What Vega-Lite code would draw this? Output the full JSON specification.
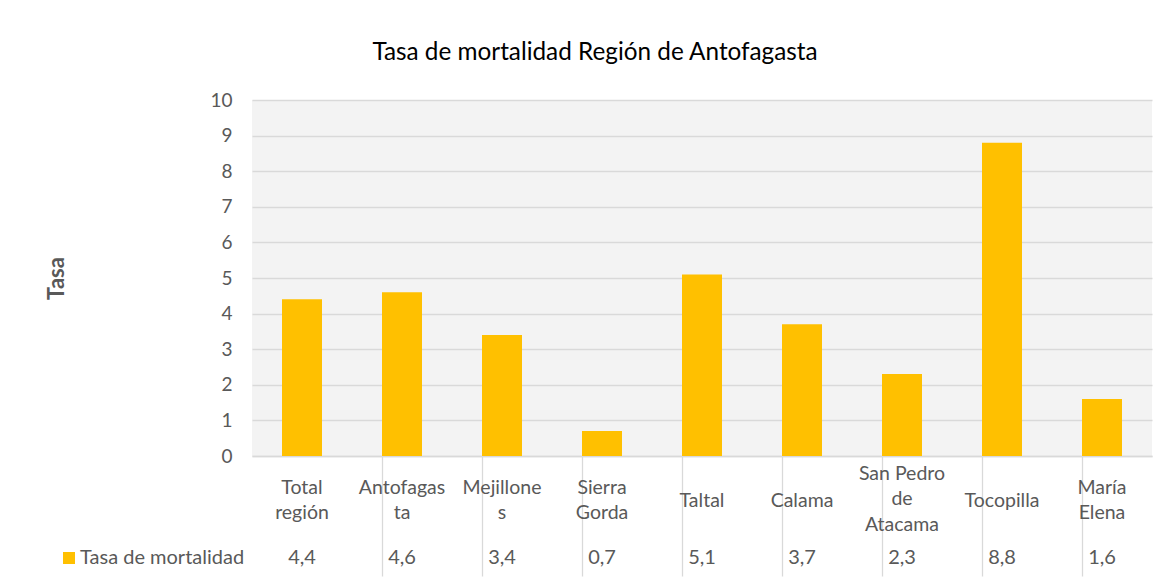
{
  "$schema": "https://vega.github.io/schema/vega-lite/v6.json",
  "width": 900,
  "height": 356,
  "autosize": "none",
  "padding": {"left": 252, "top": 100, "right": 18, "bottom": 128},
  "background": "white",
  "title": {
    "text": "Tasa de mortalidad Región de Antofagasta",
    "font": "Lato",
    "fontSize": 24.3,
    "fontWeight": "normal",
    "color": "#000000",
    "anchor": "middle",
    "dx": -107,
    "offset": 26
  },
  "config": {
    "locale": {"number": {"decimal": ",", "thousands": ".", "grouping": [3], "currency": ["", " €"]}},
    "view": {"stroke": null, "fill": "#f3f3f3"},
    "font": "Lato"
  },
  "data": {
    "values": [
      {"comuna": "Total región", "tasa": 4.4},
      {"comuna": "Antofagasta", "tasa": 4.6},
      {"comuna": "Mejillones", "tasa": 3.4},
      {"comuna": "Sierra Gorda", "tasa": 0.7},
      {"comuna": "Taltal", "tasa": 5.1},
      {"comuna": "Calama", "tasa": 3.7},
      {"comuna": "San Pedro de Atacama", "tasa": 2.3},
      {"comuna": "Tocopilla", "tasa": 8.8},
      {"comuna": "María Elena", "tasa": 1.6}
    ]
  },
  "resolve": {"axis": {"y": "independent"}},
  "encoding": {
    "x": {
      "field": "comuna",
      "type": "nominal",
      "sort": null,
      "scale": {"paddingInner": 0.6, "paddingOuter": 0.3},
      "axis": {
        "title": null,
        "labelAngle": 0,
        "labelFont": "Lato",
        "labelFontSize": 19.5,
        "labelColor": "#595959",
        "labelBaseline": "middle",
        "labelLineHeight": 25.5,
        "labelPadding": {
          "condition": [
            {"test": "datum.value == 'San Pedro de Atacama'", "value": -103},
            {"test": "indexof(['Total región', 'Antofagasta', 'Mejillones', 'Sierra Gorda', 'María Elena'], datum.value) >= 0", "value": -89}
          ],
          "value": -76
        },
        "labelLimit": 0,
        "bandPosition": 0,
        "ticks": true,
        "tickSize": 120,
        "tickColor": "#d9d9d9",
        "tickWidth": 1.3,
        "tickOpacity": {"condition": {"test": "datum.value == 'Total región'", "value": 0}, "value": 1},
        "domain": true,
        "domainColor": "#d9d9d9",
        "domainWidth": 1.3,
        "grid": false,
        "labelExpr": "datum.value == 'Total región' ? ['Total', 'región'] : datum.value == 'Antofagasta' ? ['Antofagas', 'ta'] : datum.value == 'Mejillones' ? ['Mejillone', 's'] : datum.value == 'Sierra Gorda' ? ['Sierra', 'Gorda'] : datum.value == 'San Pedro de Atacama' ? ['San Pedro', 'de', 'Atacama'] : datum.value == 'María Elena' ? ['María', 'Elena'] : datum.value"
      }
    }
  },
  "layer": [
    {
      "mark": {"type": "bar"},
      "encoding": {
        "y": {
          "field": "tasa",
          "type": "quantitative",
          "scale": {"domain": [0, 10], "nice": false},
          "axis": {
            "title": "Tasa",
            "titleFont": "Lato",
            "titleFontSize": 22,
            "titleFontWeight": "bold",
            "titleColor": "#595959",
            "titlePadding": 141,
            "values": [0, 1, 2, 3, 4, 5, 6, 7, 8, 9, 10],
            "tickCount": 20,
            "format": "d",
            "labelOverlap": false,
            "labelFont": "Lato",
            "labelFontSize": 19,
            "labelColor": "#595959",
            "labelPadding": 20,
            "ticks": false,
            "domain": false,
            "grid": true,
            "gridColor": "#d9d9d9",
            "gridWidth": 1.3
          }
        },
        "color": {
          "datum": "Tasa de mortalidad",
          "scale": {"range": ["#FFC000"]},
          "legend": {
            "title": null,
            "orient": "none",
            "legendX": -193,
            "legendY": 448,
            "symbolType": "square",
            "symbolSize": 144,
            "symbolStrokeWidth": 0,
            "labelFont": "Lato",
            "labelFontSize": 20,
            "labelColor": "#595959",
            "labelOffset": 1,
            "labelLimit": 0,
            "padding": 0
          }
        }
      }
    },
    {
      "mark": {"type": "text", "dy": 102, "baseline": "middle", "align": "center", "font": "Lato", "fontSize": 20, "color": "#595959"},
      "encoding": {
        "y": {"datum": 0, "type": "quantitative", "axis": null},
        "text": {"field": "tasa", "type": "quantitative", "format": ".1f"}
      }
    }
  ]
}
